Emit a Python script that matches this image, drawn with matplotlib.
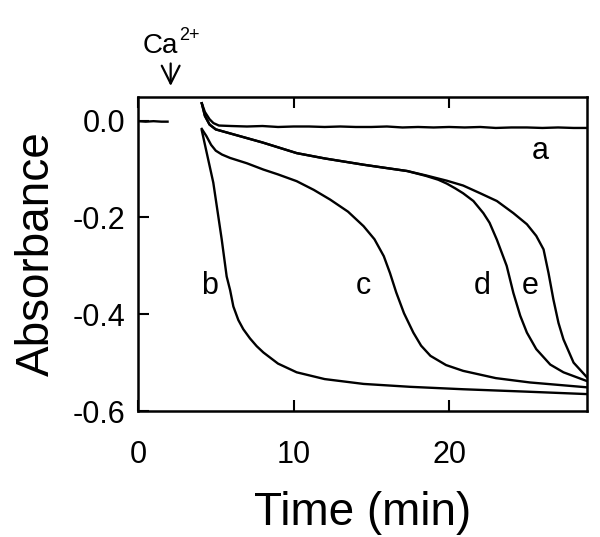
import matplotlib
matplotlib.use("Agg")
import matplotlib.pyplot as plt

plt.rcParams['font.family'] = ['Liberation Sans', 'DejaVu Sans']

# baseline before Ca2+ addition
pre_t = [0.0, 0.5, 1.0, 1.5, 1.9]
pre_a = [-0.001, -0.002, -0.001, -0.002, -0.002]

# curve a
a_t = [4.1, 4.3, 4.6, 4.85, 5.2, 6, 7, 8, 9, 10, 11, 12, 13, 14, 15, 16, 17, 18, 19, 20,
       21, 22, 23, 24, 25, 26, 27, 28, 28.85]
a_a = [0.036, 0.018, 0.003, -0.005, -0.010, -0.011, -0.012, -0.011, -0.013, -0.012, -0.012,
       -0.013, -0.012, -0.013, -0.013, -0.012, -0.014, -0.013, -0.014, -0.013, -0.014,
       -0.013, -0.015, -0.014, -0.014, -0.015, -0.014, -0.015, -0.015]

# curve b
b_t = [4.1, 4.84, 5.38, 5.7, 5.92, 6.13, 6.45, 6.77, 7.2, 7.63, 8.06, 9.0, 10.2, 12.0,
       14.5, 17.5, 20.9, 25.0, 28.85]
b_a = [-0.020, -0.128, -0.245, -0.322, -0.350, -0.384, -0.412, -0.431, -0.450, -0.466,
       -0.479, -0.502, -0.520, -0.534, -0.544, -0.550, -0.555, -0.560, -0.565]

# curve c
c_t = [4.1, 4.4, 4.7, 5.0, 5.4, 5.92, 7.0, 8.06, 9.0, 10.2, 11.3, 12.35, 13.5, 14.5, 15.2,
       15.8, 16.2, 16.6, 17.1, 17.7, 18.2, 18.8, 19.8, 20.9, 23.0, 25.2, 28.85]
c_a = [-0.017, -0.032, -0.050, -0.062, -0.070, -0.077, -0.088, -0.101, -0.111, -0.125,
       -0.143, -0.163, -0.188, -0.218, -0.245, -0.280, -0.315, -0.355, -0.398, -0.438,
       -0.465, -0.486, -0.505, -0.517, -0.532, -0.541, -0.551]

# curve d
d_t = [4.1, 4.3, 4.6, 5.0, 6.0, 8.0, 10.2, 12.0, 14.5, 16.0, 17.3, 18.5, 19.3, 19.85, 20.4,
       20.9, 21.56, 22.2, 22.6, 23.07, 23.7, 24.13, 24.57, 25.0, 25.6, 26.5, 27.35, 28.85]
d_a = [0.036, 0.010, -0.008, -0.018, -0.027, -0.045, -0.067, -0.078, -0.091, -0.098,
       -0.104, -0.114, -0.122, -0.130, -0.140, -0.150, -0.166, -0.191, -0.211, -0.246,
       -0.300, -0.356, -0.403, -0.438, -0.472, -0.504, -0.520, -0.538]

# curve e
e_t = [4.1, 4.3, 4.6, 5.0, 6.0, 8.0, 10.2, 12.0, 14.5, 16.0, 17.3, 18.5, 19.85, 20.9,
       22.0, 23.07, 24.13, 25.0, 25.6, 26.07, 26.39, 26.7, 27.03, 27.35, 28.0, 28.85]
e_a = [0.036, 0.010, -0.008, -0.018, -0.027, -0.045, -0.067, -0.078, -0.091, -0.098,
       -0.104, -0.113, -0.124, -0.134, -0.150, -0.166, -0.191, -0.214, -0.238, -0.266,
       -0.315, -0.369, -0.418, -0.452, -0.500, -0.530]

labels = ['a', 'b', 'c', 'd', 'e']
label_t = [25.85, 4.63, 14.5, 22.1, 25.2]
label_a = [-0.063, -0.342, -0.342, -0.342, -0.342]

fig = plt.figure(figsize=(6.0, 5.37), dpi=100)
ax = fig.add_axes([0.23, 0.2346, 0.748, 0.5848])

lw = 1.7
ax.plot(pre_t, pre_a, color='black', lw=lw)
for t, v in [(a_t, a_a), (b_t, b_a), (c_t, c_a), (d_t, d_a), (e_t, e_a)]:
    ax.plot(t, v, color='black', lw=lw)

for lab, x, y in zip(labels, label_t, label_a):
    ax.text(x, y, lab, fontsize=22, ha='center', va='center')

# Ca2+ addition marker
ax.annotate('', xy=(2.1, 0.066), xytext=(2.1, 0.124), xycoords='data',
            arrowprops=dict(arrowstyle='->', color='black', lw=1.6,
                            mutation_scale=32),
            annotation_clip=False)
ax.text(2.57, 0.1396, 'Ca', fontsize=20, ha='right', va='baseline', clip_on=False)
ax.text(2.62, 0.167, '2+', fontsize=13, ha='left', va='baseline', clip_on=False)

ax.set_xlim(0, 28.85)
ax.set_ylim(-0.6, 0.049)
ax.set_xticks([0, 10, 20])
ax.set_yticks([0.0, -0.2, -0.4, -0.6])
ax.set_yticklabels(['0.0', '-0.2', '-0.4', '-0.6'])
ax.tick_params(direction='in', length=8, width=1.5, labelsize=22, top=True,
               right=False)
ax.tick_params(axis='x', pad=21)
ax.tick_params(axis='y', pad=9)
for s in ax.spines.values():
    s.set_linewidth(1.8)

ax.set_xlabel('Time (min)', fontsize=33, labelpad=15)
ax.set_ylabel('Absorbance', fontsize=33, labelpad=10)

fig.savefig('out.png', dpi=100)
